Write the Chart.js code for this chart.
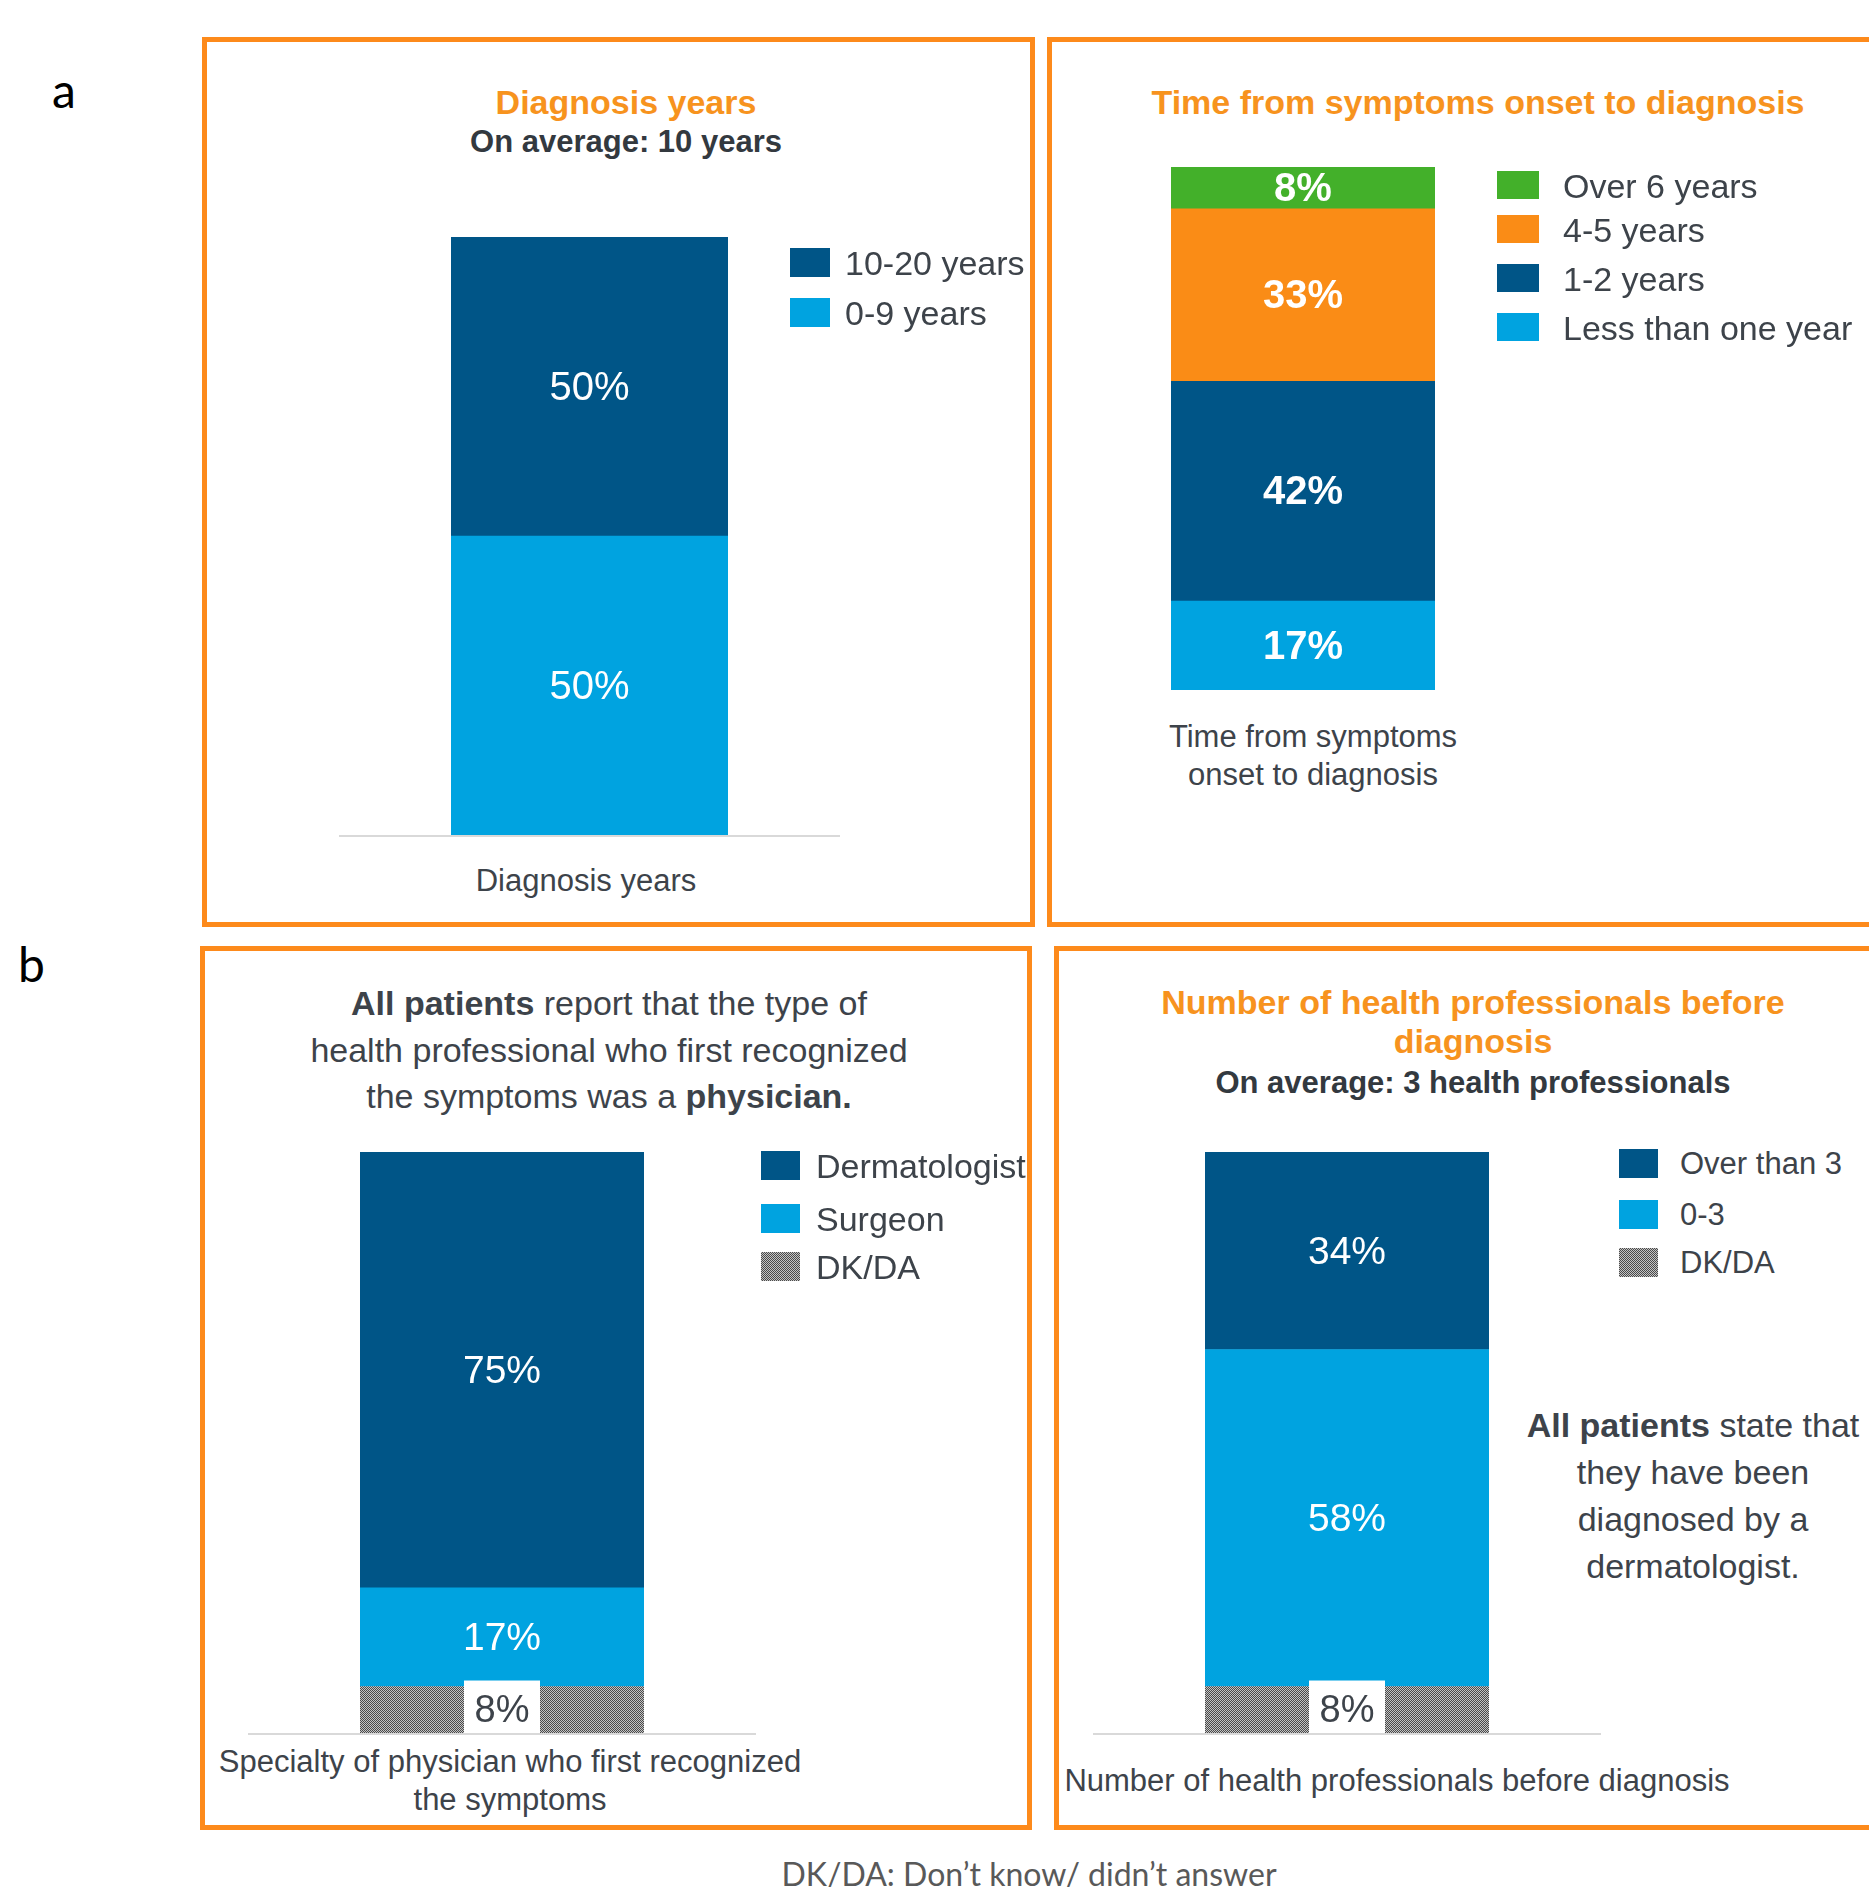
<!DOCTYPE html>
<html>
<head>
<meta charset="utf-8">
<script src="https://cdn.jsdelivr.net/npm/chart.js@4.4.1/dist/chart.umd.min.js"></script>
<style>
  html, body { margin: 0; padding: 0; background: #fff; }
  body { width: 1869px; height: 1887px; position: relative; overflow: hidden;
         font-family: 'Liberation Sans', Arial, sans-serif; color: #3d434a; }
  .abs { position: absolute; white-space: nowrap; }
  .ctr { transform: translateX(-50%); text-align: center; }
  .panel { position: absolute; border: 5px solid #fd8a1b; box-sizing: border-box; }
  .ttl { color: #f7931e; font-weight: bold; font-size: 34px; line-height: 40px; }
  .sub { font-weight: bold; font-size: 31px; line-height: 38px; color: #33393f; }
  .cat { font-size: 31px; line-height: 38px; }
  .body34 { font-size: 34px; }
  .tag { font-family: Lato, 'Open Sans', sans-serif; color: #000; font-size: 48px; line-height: 56px; }
  .foot { font-family: Lato, 'Open Sans', sans-serif; color: #595959; font-size: 32px; line-height: 40px; }
  .lg-sq { position: absolute; }
  .lg-tx { position: absolute; white-space: nowrap; transform: translateY(-50%); }
  canvas { position: absolute; }
</style>
</head>
<body>

<div class="abs tag" style="left:52px; top:62px;">a</div>
<div class="abs tag" style="left:18px; top:936px;">b</div>

<div class="panel" style="left:202px; top:37px; width:833px; height:890px;"></div>
<div class="panel" style="left:1047px; top:37px; width:840px; height:890px;"></div>
<div class="panel" style="left:200px; top:946px; width:832px; height:884px;"></div>
<div class="panel" style="left:1054px; top:946px; width:840px; height:884px;"></div>

<!-- panel a, left -->
<div class="abs ctr ttl" style="left:626px; top:82px;">Diagnosis years</div>
<div class="abs ctr sub" style="left:626px; top:123px;">On average: 10 years</div>
<div class="abs ctr cat" id="catA" style="left:586px; top:862px;"></div>
<canvas id="chartA" width="517" height="618" style="left:331px; top:227px;"></canvas>
<div id="legendA"></div>

<!-- panel a, right -->
<div class="abs ctr ttl" style="left:1478px; top:82px;">Time from symptoms onset to diagnosis</div>
<div class="abs ctr cat" id="catB" style="left:1313px; top:718px;"></div>
<canvas id="chartB" width="504" height="543" style="left:1051px; top:157px;"></canvas>
<div id="legendB"></div>

<!-- panel b, left -->
<div class="abs ctr body34" style="left:609px; top:980px; line-height:46.5px;">
  <b>All patients</b> report that the type of<br>health professional who first recognized<br>the symptoms was a <b>physician.</b>
</div>
<div class="abs ctr cat" id="catC" style="left:510px; top:1743px;"></div>
<canvas id="chartC" width="524" height="601" style="left:240px; top:1142px;"></canvas>
<div id="legendC"></div>

<!-- panel b, right -->
<div class="abs ctr ttl" style="left:1473px; top:983px; line-height:39px;">Number of health professionals before<br>diagnosis</div>
<div class="abs ctr sub" style="left:1473px; top:1064px;">On average: 3 health professionals</div>
<div class="abs ctr body34" style="left:1693px; top:1402px; line-height:47px;">
  <b>All patients</b> state that<br>they have been<br>diagnosed by a<br>dermatologist.
</div>
<div class="abs ctr cat" id="catD" style="left:1397px; top:1762px;"></div>
<canvas id="chartD" width="524" height="601" style="left:1085px; top:1142px;"></canvas>
<div id="legendD"></div>

<div class="abs ctr foot" style="left:1029px; top:1854px;">DK/DA: Don’t know/ didn’t answer</div>

<script>
// ---- data ----
const diagCategory = ['Diagnosis years'];
const diagSeries = ['0-9 years', '10-20 years'];
const diagValues = [50, 50];

const onsetCategory = ['Time from symptoms', 'onset to diagnosis'];
const onsetSeries = ['Less than one year', '1-2 years', '4-5 years', 'Over 6 years'];
const onsetValues = [17, 42, 33, 8];

const specialtyCategory = ['Specialty of physician who first recognized', 'the symptoms'];
const specialtySeries = ['DK/DA', 'Surgeon', 'Dermatologist'];
const specialtyValues = [8, 17, 75];

const profCategory = ['Number of health professionals before diagnosis'];
const profSeries = ['DK/DA', '0-3', 'Over than 3'];
const profValues = [8, 58, 34];

// ---- colours ----
const NAVY = '#005587';
const LIGHT = '#00a3e0';
const ORANGE = '#fa8c16';
const GREEN = '#43b02a';
const DARK = '#3d434a';

Chart.defaults.font.family = "'Liberation Sans', Arial, sans-serif";
Chart.defaults.animation = false;

function checker(canvas) {
  const c = document.createElement('canvas');
  c.width = 2; c.height = 2;
  const g = c.getContext('2d');
  g.fillStyle = '#c4c4c4'; g.fillRect(0, 0, 2, 2);
  g.fillStyle = '#4a4a4a';
  g.fillRect(0, 0, 1, 1); g.fillRect(1, 1, 1, 1);
  return canvas.getContext('2d').createPattern(c, 'repeat');
}
const CHECKER_CSS = 'repeating-conic-gradient(#4a4a4a 0 25%, #c4c4c4 0 50%) 0 0/2px 2px';

// labels inside the segments, DK/DA gets a white box
const barLabels = {
  id: 'barLabels',
  afterDatasetsDraw(chart) {
    const ctx = chart.ctx;
    chart.data.datasets.forEach((ds, i) => {
      chart.getDatasetMeta(i).data.forEach((bar, j) => {
        const cy = (bar.y + bar.base) / 2;
        const txt = ds.data[j] + '%';
        ctx.save();
        ctx.font = ds.labelFont;
        ctx.textAlign = 'center';
        ctx.textBaseline = 'middle';
        if (ds.boxed) {
          ctx.fillStyle = '#fff';
          ctx.fillRect(bar.x - 38, bar.y - 6, 76, bar.base - bar.y + 6);
        }
        ctx.fillStyle = ds.labelColor;
        ctx.fillText(txt, bar.x, cy + 2);
        ctx.restore();
      });
    });
  }
};

// thin grey floor line under the bar
const floorLine = {
  id: 'floorLine',
  beforeDatasetsDraw(chart, args, opts) {
    if (!opts.show) return;
    const { ctx, chartArea } = chart;
    ctx.save();
    ctx.strokeStyle = '#d9d9d9';
    ctx.lineWidth = 2;
    ctx.beginPath();
    ctx.moveTo(chartArea.left - 112, chartArea.bottom + 1);
    ctx.lineTo(chartArea.right + 112, chartArea.bottom + 1);
    ctx.stroke();
    ctx.restore();
  }
};

function makeChart(id, category, series, values, colors, labelStyle, showFloor) {
  const canvas = document.getElementById(id);
  const pattern = checker(canvas);
  const datasets = series.map((name, i) => {
    const isDk = name === 'DK/DA';
    return {
      label: name,
      data: [values[i]],
      backgroundColor: isDk ? pattern : colors[i],
      borderWidth: 0,
      barPercentage: 1,
      categoryPercentage: 1,
      boxed: isDk,
      labelColor: isDk ? DARK : '#fff',
      labelFont: isDk ? '38px "Liberation Sans", Arial' : labelStyle
    };
  });
  return new Chart(canvas, {
    type: 'bar',
    data: { labels: [category.join(' ')], datasets },
    plugins: [barLabels, floorLine],
    options: {
      responsive: false,
      layout: { padding: { left: 120, right: 120, top: 10, bottom: 10 } },
      scales: {
        x: { stacked: true, display: false },
        y: { stacked: true, display: false, min: 0, max: 100 }
      },
      plugins: {
        legend: { display: false },
        tooltip: { enabled: false },
        floorLine: { show: showFloor }
      }
    }
  });
}

function buildLegend(id, series, colors, cfg) {
  const box = document.getElementById(id);
  // legend reads top-down, the stack grows bottom-up
  const items = series.map((s, i) => ({ s, c: colors[i] })).reverse();
  items.forEach((it, k) => {
    const cy = cfg.ys[k];
    const sq = document.createElement('div');
    sq.className = 'lg-sq';
    sq.style.left = cfg.sqX + 'px';
    sq.style.top = (cy - cfg.sqH / 2) + 'px';
    sq.style.width = cfg.sqW + 'px';
    sq.style.height = cfg.sqH + 'px';
    sq.style.background = it.s === 'DK/DA' ? CHECKER_CSS : it.c;
    box.appendChild(sq);
    const tx = document.createElement('div');
    tx.className = 'lg-tx';
    tx.style.left = cfg.txX + 'px';
    tx.style.top = (cy + 1) + 'px';
    tx.style.fontSize = cfg.size + 'px';
    tx.textContent = it.s;
    box.appendChild(tx);
  });
}

function setCategory(id, lines) {
  document.getElementById(id).innerHTML = lines.join('<br>');
}

const diagColors = [LIGHT, NAVY];
const onsetColors = [LIGHT, NAVY, ORANGE, GREEN];
const specialtyColors = [null, LIGHT, NAVY];
const profColors = [null, LIGHT, NAVY];

makeChart('chartA', diagCategory, diagSeries, diagValues, diagColors, '40px "Liberation Sans", Arial', true);
makeChart('chartB', onsetCategory, onsetSeries, onsetValues, onsetColors, 'bold 40px "Liberation Sans", Arial', false);
makeChart('chartC', specialtyCategory, specialtySeries, specialtyValues, specialtyColors, '39px "Liberation Sans", Arial', true);
makeChart('chartD', profCategory, profSeries, profValues, profColors, '39px "Liberation Sans", Arial', true);

setCategory('catA', diagCategory);
setCategory('catB', onsetCategory);
setCategory('catC', specialtyCategory);
setCategory('catD', profCategory);

buildLegend('legendA', diagSeries, diagColors, { ys: [262, 312], sqX: 790, sqW: 40, sqH: 29, txX: 845, size: 34 });
buildLegend('legendB', onsetSeries, onsetColors, { ys: [185, 229, 278, 327], sqX: 1497, sqW: 42, sqH: 28, txX: 1563, size: 34 });
buildLegend('legendC', specialtySeries, specialtyColors, { ys: [1165, 1218, 1266], sqX: 761, sqW: 39, sqH: 29, txX: 816, size: 34 });
buildLegend('legendD', profSeries, profColors, { ys: [1163, 1214, 1262], sqX: 1619, sqW: 39, sqH: 29, txX: 1680, size: 31 });
</script>
</body>
</html>
